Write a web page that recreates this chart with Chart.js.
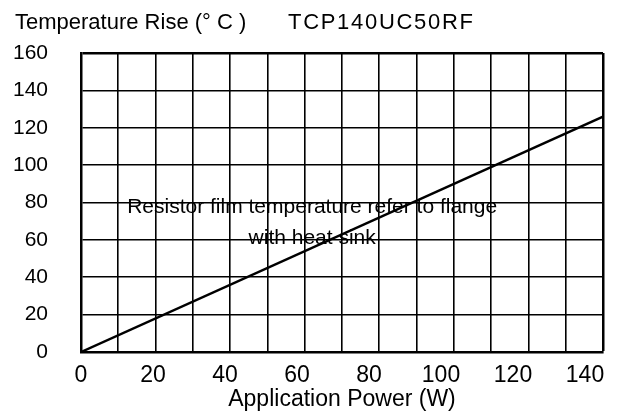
<!DOCTYPE html>
<html><head><meta charset="utf-8">
<script src="https://cdn.jsdelivr.net/npm/chart.js@4.4.0/dist/chart.umd.min.js"></script>
<style>html,body{margin:0;padding:0;background:#fff}#wrap{width:618px;height:414px;position:relative}</style>
</head><body><div id="wrap"><canvas id="c"></canvas></div>
<script>
const titleLeft = "Temperature Rise (° C )";
const titleRight = "TCP140UC50RF";
const xAxisTitle = "Application Power (W)";
const noteLines = ["Resistor film temperature refer to flange", "with heat sink"];
const powerW = [0, 140];
const tempRiseC = [0, 126];
const xTickLabels = [0, 20, 40, 60, 80, 100, 120, 140];
const yTickLabels = [0, 20, 40, 60, 80, 100, 120, 140, 160];

const FONT = "'Liberation Sans', Arial, sans-serif";

const textPlugin = {
  id: 'texts',
  afterDatasetsDraw(chart) {
    const ctx = chart.ctx;
    ctx.save();
    ctx.fillStyle = '#000';
    ctx.textBaseline = 'alphabetic';
    ctx.textAlign = 'left';
    ctx.font = "22px " + FONT;
    ctx.fillText(titleLeft, 15, 28.5);
    try { ctx.letterSpacing = '1.7px'; } catch (e) {}
    ctx.fillText(titleRight, 288, 28.5);
    try { ctx.letterSpacing = '0px'; } catch (e) {}
    const xs = chart.scales.x, ys = chart.scales.y;
    const cx = xs.getPixelForValue(62);
    const cy = ys.getPixelForValue(77.6);
    ctx.font = "21px " + FONT;
    ctx.textAlign = 'center';
    ctx.textBaseline = 'middle';
    noteLines.forEach((t, i) => ctx.fillText(t, cx, cy + i * 31.5));
    ctx.restore();
  }
};

new Chart(document.getElementById('c'), {
  type: 'line',
  data: {
    datasets: [{
      data: powerW.map((p, i) => ({ x: p, y: tempRiseC[i] })),
      borderColor: '#000',
      borderWidth: 2.5,
      pointRadius: 0,
      tension: 0,
      xAxisID: 'x',
      yAxisID: 'y'
    }]
  },
  options: {
    responsive: true,
    maintainAspectRatio: false,
    animation: false,
    layout: { padding: { left: 0, top: 53, right: 15, bottom: 0 } },
    plugins: { legend: { display: false }, tooltip: { enabled: false }, title: { display: false } },
    scales: {
      x: {
        type: 'linear', position: 'bottom', min: 0, max: 140,
        ticks: { display: false, stepSize: 10 },
        grid: { color: '#000', lineWidth: c => (c.tick && c.tick.value === 140 ? 2.5 : 1.6), drawTicks: false },
        border: { color: '#000', width: 2.5 },
        afterFit: s => { s.height = 0; }
      },
      x2: {
        type: 'linear', position: 'bottom', min: 0, max: 145,
        afterBuildTicks: s => { s.ticks = xTickLabels.map(v => ({ value: v })); },
        ticks: { color: '#000', font: { family: FONT, size: 23 }, padding: 10, maxRotation: 0, autoSkip: false },
        grid: { display: false, drawTicks: false },
        border: { display: false },
        title: { display: true, text: xAxisTitle, color: '#000', font: { family: FONT, size: 23 }, padding: { top: 0, bottom: 1 } },
        afterFit: s => { s.height = 62; }
      },
      y: {
        type: 'linear', min: 0, max: 160,
        afterBuildTicks: s => { s.ticks = yTickLabels.map(v => ({ value: v })); },
        ticks: { color: '#000', font: { family: FONT, size: 21 }, padding: 33 },
        grid: { color: '#000', lineWidth: c => (c.tick && c.tick.value === 160 ? 2.5 : 1.6), drawTicks: false },
        border: { color: '#000', width: 2.5 },
        afterFit: s => { s.width = 81; }
      }
    }
  },
  plugins: [textPlugin]
});
</script>
</body></html>
